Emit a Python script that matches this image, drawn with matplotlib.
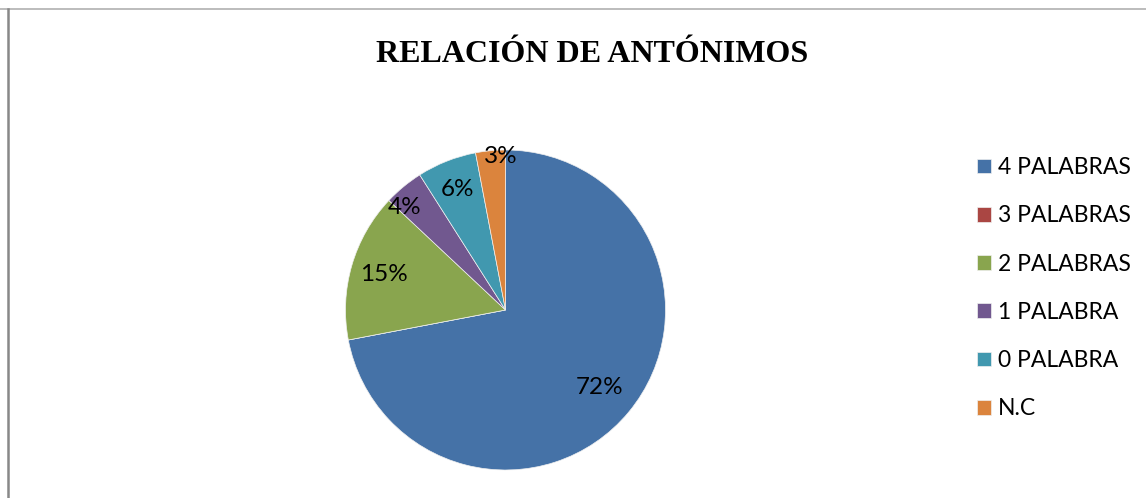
import numpy as np
import matplotlib.pyplot as plt
from matplotlib.lines import Line2D

# data
labels = ['4 PALABRAS', '3 PALABRAS', '2 PALABRAS', '1 PALABRA', '0 PALABRA', 'N.C']
values = [72, 0, 15, 4, 6, 3]
colors = ['#4572A7', '#AA4643', '#89A54E', '#71588F', '#4198AF', '#DB843D']
# label placement (radial fraction, angular nudge in degrees)
label_dist = [0.76, 0.0, 0.79, 0.90, 0.81, 0.96]
label_turn = [0, 0, 0, 5, 0, -3.5]

W, H = 1146, 498
fig = plt.figure(figsize=(W / 100, H / 100), dpi=100)

# frame lines (top and left only)
fig.add_artist(Line2D([0, 1], [1 - 9 / H, 1 - 9 / H], transform=fig.transFigure,
                      color='#b0b0b0', lw=1.2))
fig.add_artist(Line2D([7.5 / W, 7.5 / W], [0, 1 - 9 / H], transform=fig.transFigure,
                      color='#888888', lw=1.8))

# pie axes: center (505.5, 310), radius 160 px
cx, cy, r = 505.5, 310, 160
ax = fig.add_axes([(cx - r) / W, (H - cy - r) / H, 2 * r / W, 2 * r / H])
wedges, _ = ax.pie(values, colors=colors, startangle=90, counterclock=False,
                   radius=1, wedgeprops=dict(linewidth=0.5, edgecolor='#f0f0f0'))
ax.set_xlim(-1, 1)
ax.set_ylim(-1, 1)
ax.set_aspect('equal')
ax.axis('off')

total = sum(values)
for w, v, d, t in zip(wedges, values, label_dist, label_turn):
    if v == 0:
        continue
    ang = np.deg2rad((w.theta1 + w.theta2) / 2 + t)
    ax.text(d * np.cos(ang), d * np.sin(ang), f'{round(100 * v / total)}%',
            ha='center', va='center', fontsize=17.5, family='Lato')

fig.text(592 / W, 1 - 54 / H, 'RELACIÓN DE ANTÓNIMOS', ha='center', va='center',
         fontsize=23, fontweight='bold', family='Liberation Serif')

fig.legend(wedges, labels, loc='upper left', bbox_to_anchor=(977 / W, 1 - 157 / H),
           frameon=False, prop=dict(family='Lato', size=16.5),
           handlelength=0.62, handleheight=0.62, handletextpad=0.3,
           labelspacing=1.19, borderpad=0, borderaxespad=0)

fig.savefig('out.png', dpi=100)
